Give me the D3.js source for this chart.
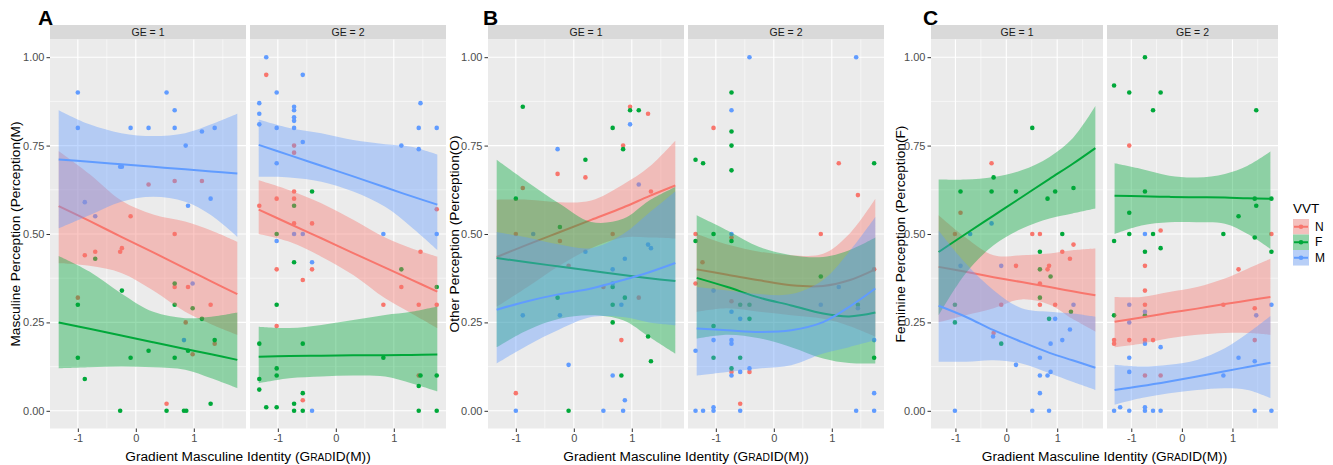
<!DOCTYPE html>
<html>
<head>
<meta charset="utf-8">
<script src="https://cdn.jsdelivr.net/npm/d3@7"></script>
<style>
  body { margin: 0; background: #ffffff; }
  svg { display: block; }
</style>
</head>
<body>
<script>
// ---- data ----
var vvt = ["N", "F", "M"];
var facetLabels = ["GE = 1", "GE = 2"];
var xTicks = [-1, 0, 1];
var xMinor = [-0.5, 0.5, 1.5];
var yTicks = [0, 0.25, 0.5, 0.75, 1];
var yMinor = [0.125, 0.375, 0.625, 0.875];
var smoothX = [-1.33, -0.8, -0.25, 0.3, 0.85, 1.3, 1.75];

// panel A : Masculine perception
var ptsA1_N = [[0.22,0.64],[0.67,0.65],[1.14,0.65],[-0.09,0.55],[0.67,0.50],[-0.88,0.44],[-0.70,0.45],[-0.27,0.45],[-0.24,0.46],[0.67,0.35],[0.90,0.35],[1.29,0.30],[-1.0,0.32],[0.86,0.25],[0.98,0.16],[1.36,0.19],[0.53,0.02]];
var ptsA1_F = [[-0.70,0.43],[0.67,0.36],[-1.0,0.30],[-0.24,0.34],[0.67,0.30],[0.98,0.29],[1.14,0.26],[1.36,0.20],[-1.0,0.15],[-0.09,0.15],[0.22,0.17],[0.67,0.15],[0.90,0.17],[-0.88,0.09],[-0.27,0],[0.53,0],[0.83,0],[0.87,0],[1.29,0.02]];
var ptsA1_M = [[-1.0,0.90],[-1.0,0.80],[0.53,0.90],[0.67,0.85],[0.67,0.80],[-0.09,0.80],[0.22,0.80],[1.14,0.79],[1.36,0.80],[0.86,0.75],[-0.27,0.69],[-0.24,0.69],[-0.88,0.59],[-0.70,0.55],[0.90,0.58],[1.29,0.60],[0.98,0.36],[0.83,0.20]];
var ptsA2_N = [[-1.20,0.95],[-0.72,0.75],[-0.72,0.73],[-0.72,0.62],[-0.72,0.60],[-1.02,0.60],[-1.32,0.58],[-0.72,0.53],[-0.41,0.53],[1.74,0.57],[1.46,0.45],[-1.02,0.40],[-0.41,0.40],[-0.57,0.37],[1.13,0.35],[0.82,0.30],[1.43,0.30],[1.74,0.30],[-1.02,0.24],[1.43,0.10],[-0.57,0.03]];
var ptsA2_F = [[-0.41,0.62],[-0.72,0.58],[-1.02,0.50],[-0.72,0.42],[1.13,0.40],[1.74,0.35],[-1.02,0.30],[-1.32,0.19],[-0.57,0.19],[0.82,0.15],[-1.02,0.12],[-1.02,0.10],[-1.32,0.09],[-1.32,0.06],[1.43,0.07],[1.46,0.10],[1.74,0.10],[-0.57,0.05],[-0.72,0.02],[-1.20,0.01],[-1.02,0.01],[-0.72,0],[-0.57,0],[1.43,0],[1.74,0]];
var ptsA2_M = [[-1.20,1.00],[-0.57,0.95],[-1.02,0.90],[-1.32,0.87],[-1.32,0.84],[-1.32,0.81],[-1.02,0.80],[-0.72,0.86],[-0.72,0.85],[-0.72,0.83],[-0.72,0.82],[-0.72,0.80],[-0.57,0.76],[-1.02,0.70],[1.46,0.87],[1.43,0.80],[1.74,0.80],[1.13,0.75],[1.43,0.74],[0.82,0.50],[1.74,0.50],[-1.02,0.48],[-0.72,0.50],[-0.57,0.50],[-0.41,0.42],[-0.41,0]];

var smA1_N = {fit:[0.579,0.537,0.492,0.448,0.403,0.366,0.33], lo:[0.417,0.41,0.39,0.34,0.28,0.245,0.215], hi:[0.735,0.67,0.595,0.555,0.535,0.51,0.478]};
var smA1_F = {fit:[0.25,0.232,0.213,0.194,0.175,0.16,0.144], lo:[0.12,0.123,0.125,0.123,0.116,0.092,0.064], hi:[0.438,0.394,0.332,0.28,0.262,0.266,0.278]};
var smA1_M = {fit:[0.711,0.704,0.697,0.69,0.683,0.677,0.671], lo:[0.516,0.553,0.591,0.605,0.591,0.553,0.492], hi:[0.85,0.81,0.785,0.777,0.785,0.81,0.84]};
var smA2_N = {fit:[0.569,0.529,0.488,0.446,0.405,0.371,0.337], lo:[0.50,0.478,0.436,0.384,0.318,0.276,0.234], hi:[0.652,0.624,0.587,0.54,0.49,0.46,0.436]};
var smA2_F = {fit:[0.153,0.155,0.156,0.157,0.157,0.158,0.159], lo:[0.078,0.092,0.097,0.10,0.097,0.078,0.055], hi:[0.238,0.234,0.243,0.257,0.271,0.28,0.295]};
var smA2_M = {fit:[0.752,0.723,0.693,0.663,0.632,0.607,0.583], lo:[0.662,0.66,0.648,0.62,0.577,0.52,0.455], hi:[0.824,0.80,0.785,0.766,0.754,0.747,0.725]};

// panel B : Other perception
var ptsB1_N = [[0.97,0.86],[1.28,0.84],[0.85,0.75],[-0.28,0.67],[0.20,0.66],[1.33,0.62],[-0.88,0.63],[-0.24,0.48],[0.82,0.20],[-1.0,0.05],[-1.0,0.50],[0.67,0.50],[-0.09,0.41],[0.51,0.35],[1.12,0.32]];
var ptsB1_F = [[-0.88,0.86],[-1.0,0.60],[0.97,0.85],[1.12,0.85],[0.67,0.80],[0.85,0.74],[0.20,0.71],[-0.24,0.52],[-0.28,0.32],[0.88,0.32],[0.67,0.30],[0.67,0.25],[1.28,0.21],[1.33,0.14],[0.82,0.10],[-0.09,0],[0.67,0.35]];
var ptsB1_M = [[-1.0,0],[-0.28,0.74],[0.97,0.81],[1.12,0.64],[1.28,0.47],[1.33,0.46],[0.20,0.45],[0.67,0.40],[-0.88,0.27],[-0.24,0.27],[0.82,0.30],[-0.09,0.13],[0.67,0.10],[0.88,0.03],[0.51,0],[0.85,0],[-0.70,0.50],[0.88,0.43],[0.67,0.36]];
var ptsB2_N = [[-1.04,0.80],[1.12,0.70],[1.45,0.61],[-1.35,0.50],[-0.73,0.49],[0.81,0.50],[1.73,0.40],[-1.35,0.36],[-0.73,0.11],[-0.42,0.11],[-0.58,0.02],[-0.73,0.31],[-1.23,0.42]];
var ptsB2_F = [[-0.73,0.90],[-0.73,0.79],[-0.73,0.75],[-1.35,0.71],[-1.22,0.70],[-0.73,0.68],[1.73,0.70],[-1.04,0.50],[-1.35,0.48],[-0.73,0.48],[0.81,0.38],[-1.04,0.24],[-0.42,0.26],[-1.04,0.15],[-0.58,0.15],[1.73,0.15],[-0.73,0.12],[-0.58,0.30],[-0.42,0.30],[1.45,0.30]];
var ptsB2_M = [[-0.42,1.00],[1.42,1.00],[-0.73,0.85],[-0.73,0.50],[-1.35,0.17],[-1.04,0.20],[-0.73,0.20],[-0.73,0.19],[-0.58,0.26],[-0.73,0.28],[1.73,0.20],[1.73,0.05],[-0.58,0.11],[-0.42,0.12],[-0.73,0.10],[-1.35,0],[-1.22,0],[-1.04,0.01],[-1.04,0],[-0.58,0],[1.42,0],[1.73,0],[-1.04,0.34],[0.81,0.30],[1.12,0.35],[1.45,0.29]];

var smB1_N = {fit:[0.435,0.47,0.505,0.54,0.575,0.607,0.637], lo:[0.294,0.35,0.41,0.46,0.49,0.49,0.487], hi:[0.597,0.597,0.59,0.595,0.64,0.69,0.764]};
var smB1_F = {fit:[0.432,0.42,0.408,0.396,0.384,0.375,0.367], lo:[0.18,0.228,0.26,0.27,0.256,0.209,0.162], hi:[0.71,0.647,0.586,0.534,0.543,0.595,0.633]};
var smB1_M = {fit:[0.286,0.31,0.33,0.346,0.37,0.392,0.418], lo:[0.134,0.185,0.23,0.265,0.265,0.25,0.242], hi:[0.506,0.49,0.47,0.46,0.50,0.56,0.62]};
var smB2_N = {fit:[0.40,0.385,0.369,0.355,0.353,0.369,0.40], lo:[0.28,0.29,0.28,0.27,0.26,0.24,0.21], hi:[0.50,0.47,0.45,0.44,0.444,0.50,0.60]};
var smB2_F = {fit:[0.376,0.35,0.32,0.298,0.275,0.267,0.278], lo:[0.204,0.215,0.205,0.18,0.148,0.135,0.134], hi:[0.553,0.51,0.463,0.44,0.435,0.454,0.49]};
var smB2_M = {fit:[0.233,0.228,0.223,0.228,0.251,0.294,0.346], lo:[0.10,0.11,0.12,0.129,0.162,0.18,0.20], hi:[0.35,0.34,0.33,0.33,0.37,0.45,0.548]};

// panel C : Feminine perception
var ptsC1_N = [[-0.29,0.70],[-0.90,0.56],[-1.01,0.50],[0.51,0.50],[0.66,0.50],[1.10,0.45],[1.32,0.47],[1.25,0.43],[0.19,0.41],[0.81,0.40],[0.84,0.41],[0.66,0.36],[0.66,0.30],[0.96,0.30],[-0.10,0.30],[-0.25,0.22]];
var ptsC1_F = [[0.51,0.80],[-0.25,0.66],[-0.90,0.62],[-0.29,0.62],[0.19,0.62],[0.96,0.62],[0.81,0.60],[1.32,0.63],[1.10,0.50],[0.66,0.45],[0.66,0.40],[0.87,0.38],[0.66,0.32],[0.84,0.26],[1.27,0.28],[-1.01,0.25],[-0.10,0.19],[-1.01,0.30]];
var ptsC1_M = [[-0.71,0.50],[-0.29,0.53],[-0.90,0.41],[-0.10,0.41],[1.32,0.30],[0.87,0.19],[0.96,0.26],[-0.26,0.21],[1.25,0.23],[1.10,0.20],[0.19,0.13],[0.66,0.15],[0.66,0.10],[0.81,0.10],[0.87,0.11],[0.66,0.05],[-1.01,0],[0.51,0],[0.84,0]];
var ptsC2_N = [[-1.04,0.75],[-0.42,0.51],[1.77,0.50],[-0.73,0.41],[1.12,0.40],[-0.73,0.34],[-0.73,0.30],[0.82,0.30],[1.44,0.29],[-1.34,0.20],[-1.34,0.19],[-1.04,0.20],[-0.73,0.20],[-0.57,0.20],[1.44,0.20],[-0.73,0.10],[-0.42,0.10]];
var ptsC2_F = [[-0.73,1.00],[-1.34,0.92],[-1.04,0.90],[-0.42,0.90],[-0.57,0.85],[1.47,0.85],[-0.73,0.62],[-1.04,0.56],[1.12,0.55],[1.44,0.60],[1.77,0.60],[1.47,0.58],[-1.04,0.50],[-0.57,0.50],[0.82,0.50],[-1.34,0.48],[1.44,0.49],[-0.42,0.46],[-0.73,0.45],[1.77,0.45],[-1.34,0.27],[-0.73,0.27]];
var ptsC2_M = [[-0.73,0.50],[-1.04,0.30],[-0.73,0.28],[-1.04,0.25],[1.47,0.27],[1.77,0.30],[-0.73,0.19],[-0.42,0.18],[-1.04,0.15],[1.12,0.15],[1.44,0.14],[-1.04,0.11],[0.82,0.10],[-1.34,0],[-1.22,0.01],[-1.04,0],[-0.73,0.01],[-0.73,0],[-0.57,0],[-0.42,0],[1.44,0],[1.77,0]];

var smC1_N = {fit:[0.407,0.393,0.378,0.364,0.35,0.338,0.327], lo:[0.25,0.27,0.29,0.315,0.30,0.26,0.224], hi:[0.553,0.49,0.44,0.44,0.445,0.454,0.459]};
var smC1_F = {fit:[0.449,0.50,0.552,0.604,0.656,0.698,0.743], lo:[0.27,0.388,0.468,0.515,0.544,0.558,0.572], hi:[0.654,0.654,0.661,0.68,0.718,0.77,0.862]};
var smC1_M = {fit:[0.297,0.266,0.228,0.195,0.164,0.143,0.122], lo:[0.139,0.139,0.143,0.134,0.106,0.082,0.059], hi:[0.51,0.417,0.341,0.29,0.28,0.275,0.266]};
var smC2_N = {fit:[0.252,0.264,0.277,0.289,0.302,0.312,0.322], lo:[0.18,0.19,0.205,0.215,0.22,0.22,0.215], hi:[0.322,0.322,0.336,0.35,0.374,0.402,0.43]};
var smC2_F = {fit:[0.608,0.607,0.605,0.604,0.603,0.601,0.60], lo:[0.50,0.524,0.533,0.533,0.529,0.50,0.458], hi:[0.70,0.684,0.665,0.66,0.67,0.693,0.733]};
var smC2_M = {fit:[0.059,0.07,0.083,0.097,0.112,0.124,0.136], lo:[0.017,0.036,0.05,0.059,0.064,0.059,0.036], hi:[0.13,0.125,0.13,0.144,0.177,0.219,0.268]};

// ---- look ----
var colour = {N: "#F8766D", F: "#00A83A", M: "#619CFF"};
var panelTop = 39.5, panelBottom = 428.5, stripTop = 25;
var xDomain = [-1.48, 1.90], yDomain = [-0.05, 1.05];

var panels = [
  {label: "A", labelX: 38, titleX: 15, ytitle: "Masculine Perception (Perception(M)",
   facets: [{x0: 50, x1: 246, pts: {N: ptsA1_N, F: ptsA1_F, M: ptsA1_M}, sm: {N: smA1_N, F: smA1_F, M: smA1_M}},
            {x0: 250, x1: 446, pts: {N: ptsA2_N, F: ptsA2_F, M: ptsA2_M}, sm: {N: smA2_N, F: smA2_F, M: smA2_M}}]},
  {label: "B", labelX: 483, titleX: 454, ytitle: "Other Perception (Perception(O)",
   facets: [{x0: 488, x1: 684, pts: {N: ptsB1_N, F: ptsB1_F, M: ptsB1_M}, sm: {N: smB1_N, F: smB1_F, M: smB1_M}},
            {x0: 688, x1: 884, pts: {N: ptsB2_N, F: ptsB2_F, M: ptsB2_M}, sm: {N: smB2_N, F: smB2_F, M: smB2_M}}]},
  {label: "C", labelX: 923, titleX: 900, ytitle: "Feminine Perception (Perception(F)",
   facets: [{x0: 931, x1: 1103, pts: {N: ptsC1_N, F: ptsC1_F, M: ptsC1_M}, sm: {N: smC1_N, F: smC1_F, M: smC1_M}},
            {x0: 1107, x1: 1278, pts: {N: ptsC2_N, F: ptsC2_F, M: ptsC2_M}, sm: {N: smC2_N, F: smC2_F, M: smC2_M}}]}
];

var svg = d3.select("body").append("svg")
    .attr("width", 1333)
    .attr("height", 465)
    .style("font-family", "'Liberation Sans', Arial, sans-serif");

var y = d3.scaleLinear().domain(yDomain).range([panelBottom, panelTop]);

panels.forEach(function(p) {
  p.facets.forEach(function(f, fi) {
    var x = d3.scaleLinear().domain(xDomain).range([f.x0, f.x1]);
    var g = svg.append("g");

    // strip
    g.append("rect")
        .attr("x", f.x0).attr("y", stripTop)
        .attr("width", f.x1 - f.x0).attr("height", panelTop - stripTop)
        .attr("fill", "#d9d9d9");
    g.append("text")
        .attr("x", (f.x0 + f.x1) / 2).attr("y", stripTop + 11)
        .attr("text-anchor", "middle")
        .attr("font-size", 10.5)
        .attr("fill", "#1a1a1a")
        .text(facetLabels[fi]);

    // panel background + grid
    g.append("rect")
        .attr("x", f.x0).attr("y", panelTop)
        .attr("width", f.x1 - f.x0).attr("height", panelBottom - panelTop)
        .attr("fill", "#ebebeb");
    g.selectAll(null).data(yMinor).enter().append("line")
        .attr("x1", f.x0).attr("x2", f.x1)
        .attr("y1", function(d) { return y(d); }).attr("y2", function(d) { return y(d); })
        .attr("stroke", "#ffffff").attr("stroke-width", 0.55);
    g.selectAll(null).data(xMinor).enter().append("line")
        .attr("y1", panelTop).attr("y2", panelBottom)
        .attr("x1", function(d) { return x(d); }).attr("x2", function(d) { return x(d); })
        .attr("stroke", "#ffffff").attr("stroke-width", 0.55);
    g.selectAll(null).data(yTicks).enter().append("line")
        .attr("x1", f.x0).attr("x2", f.x1)
        .attr("y1", function(d) { return y(d); }).attr("y2", function(d) { return y(d); })
        .attr("stroke", "#ffffff").attr("stroke-width", 1.1);
    g.selectAll(null).data(xTicks).enter().append("line")
        .attr("y1", panelTop).attr("y2", panelBottom)
        .attr("x1", function(d) { return x(d); }).attr("x2", function(d) { return x(d); })
        .attr("stroke", "#ffffff").attr("stroke-width", 1.1);

    // points (drawn under the smooths, like geom_point + geom_smooth)
    vvt.forEach(function(k) {
      g.selectAll(null).data(f.pts[k]).enter().append("circle")
          .attr("cx", function(d) { return x(d[0]); })
          .attr("cy", function(d) { return y(d[1]); })
          .attr("r", 2.3)
          .attr("fill", colour[k]);
    });

    // ribbon then line, group by group
    vvt.forEach(function(k) {
      var sm = f.sm[k];
      var rows = smoothX.map(function(xv, i) { return {x: xv, fit: sm.fit[i], lo: sm.lo[i], hi: sm.hi[i]}; });
      var area = d3.area()
          .x(function(d) { return x(d.x); })
          .y0(function(d) { return y(d.lo); })
          .y1(function(d) { return y(d.hi); })
          .curve(d3.curveCatmullRom.alpha(0.5));
      var line = d3.line()
          .x(function(d) { return x(d.x); })
          .y(function(d) { return y(d.fit); })
          .curve(d3.curveCatmullRom.alpha(0.5));
      g.append("path").datum(rows)
          .attr("d", area)
          .attr("fill", colour[k]).attr("fill-opacity", 0.4);
      g.append("path").datum(rows)
          .attr("d", line)
          .attr("fill", "none")
          .attr("stroke", colour[k]).attr("stroke-width", 2);
    });

    // x axis
    var ax = g.append("g")
        .attr("transform", "translate(0," + panelBottom + ")")
        .call(d3.axisBottom(x).tickValues(xTicks).tickSize(3.5).tickPadding(2.5)
              .tickFormat(function(d) { return String(d); }));
    ax.select(".domain").remove();
    ax.selectAll(".tick line").attr("stroke", "#333333");
    ax.selectAll("text").attr("fill", "#4d4d4d").attr("font-size", 11).attr("font-family", null);

    // y axis only on the first facet
    if (fi === 0) {
      var ay = g.append("g")
          .attr("transform", "translate(" + f.x0 + ",0)")
          .call(d3.axisLeft(y).tickValues(yTicks).tickSize(3.5).tickPadding(2)
                .tickFormat(d3.format(".2f")));
      ay.select(".domain").remove();
      ay.selectAll(".tick line").attr("stroke", "#333333");
      ay.selectAll("text").attr("fill", "#4d4d4d").attr("font-size", 11).attr("font-family", null);
    }
  });

  // panel letter
  svg.append("text")
      .attr("x", p.labelX).attr("y", 25)
      .attr("font-size", 21).attr("font-weight", "bold")
      .attr("fill", "#000000")
      .text(p.label);

  // y title
  svg.append("text")
      .attr("transform", "translate(" + p.titleX + "," + ((panelTop + panelBottom) / 2) + ") rotate(-90)")
      .attr("text-anchor", "middle")
      .attr("dominant-baseline", "central")
      .attr("font-size", 13.7)
      .attr("fill", "#000000")
      .text(p.ytitle);

  // x title with small caps in GradID
  var left = p.facets[0].x0, right = p.facets[1].x1;
  var xt = svg.append("text")
      .attr("x", (left + right) / 2).attr("y", 461)
      .attr("text-anchor", "middle")
      .attr("font-size", 13.7)
      .attr("fill", "#000000");
  xt.append("tspan").text("Gradient Masculine Identity (G");
  xt.append("tspan").attr("font-size", 10.3).text("RAD");
  xt.append("tspan").text("ID(M))");
});

// legend
var legX = 1293, legY = 219, keyW = 16, keyH = 15.5;
svg.append("text")
    .attr("x", legX).attr("y", 213)
    .attr("font-size", 13.5)
    .attr("fill", "#000000")
    .text("VVT");
var leg = svg.selectAll(".key").data(vvt).enter().append("g")
    .attr("class", "key")
    .attr("transform", function(d, i) { return "translate(" + legX + "," + (legY + i * keyH) + ")"; });
leg.append("rect")
    .attr("width", keyW).attr("height", keyH)
    .attr("fill", "#f2f2f2");
leg.append("rect")
    .attr("width", keyW).attr("height", keyH)
    .attr("fill", function(d) { return colour[d]; }).attr("fill-opacity", 0.4);
leg.append("line")
    .attr("x1", 1).attr("x2", keyW - 1)
    .attr("y1", keyH / 2).attr("y2", keyH / 2)
    .attr("stroke", function(d) { return colour[d]; }).attr("stroke-width", 2);
leg.append("circle")
    .attr("cx", keyW / 2).attr("cy", keyH / 2).attr("r", 2.3)
    .attr("fill", function(d) { return colour[d]; });
leg.append("text")
    .attr("x", keyW + 6).attr("y", keyH / 2)
    .attr("dominant-baseline", "central")
    .attr("font-size", 12)
    .attr("fill", "#000000")
    .text(function(d) { return d; });
</script>
</body>
</html>
